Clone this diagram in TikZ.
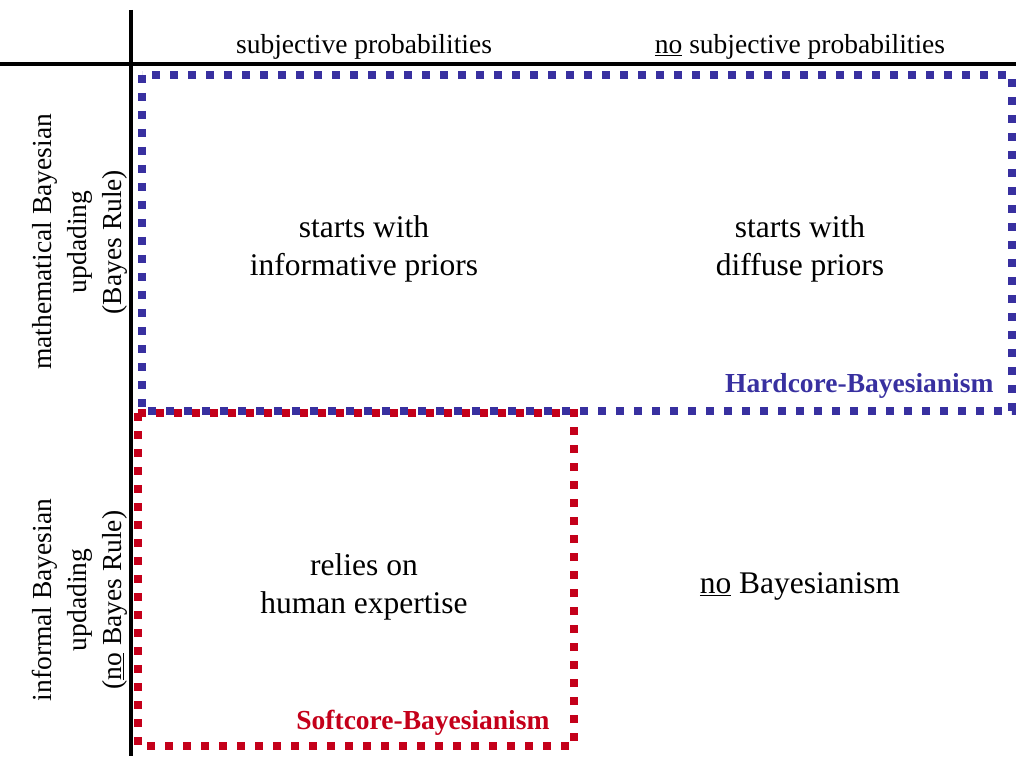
\documentclass[tikz,border=0pt]{standalone}
\usepackage{fontspec}
\setmainfont{Liberation Serif}
\usetikzlibrary{positioning}
\definecolor{hardblue}{RGB}{56,48,160}
\definecolor{softred}{RGB}{196,0,26}

\begin{document}
\begin{tikzpicture}[x=1pt, y=1pt,
  axis/.style={line width=4pt},
  dotbox/.style={line width=8pt, dash pattern=on 8pt off 10pt},
  head/.style={font=\fontsize{27.5}{32}\selectfont},
  cell/.style={font=\fontsize{31.5}{38}\selectfont, align=center},
  side/.style={font=\fontsize{27.5}{35}\selectfont, align=center, rotate=90},
  tag/.style={font=\fontsize{27.5}{30}\selectfont\bfseries, anchor=east}]
  \useasboundingbox (0,0) rectangle (1016,756);
  % the two axes of the table
  \draw[axis] (131,746) -- (131,0);
  \draw[axis] (0,692) -- (1016,692);
  % column and row headings
  \node[head] (subj) at (364,709) {subjective probabilities};
  \node[head] (nosubj) at (800,709) {\underline{no} subjective probabilities};
  \node[side] (math) at (80,514) {mathematical Bayesian\\updading\\(Bayes Rule)};
  \node[side] (informal) at (80,156) {informal Bayesian\\updading\\(\underline{no} Bayes Rule)};
  % the four cells
  \node[cell] (informative) at (364,507) {starts with\\informative priors};
  \node[cell] (diffuse) at (800,507) {starts with\\diffuse priors};
  \node[cell] (expertise) at (364,169) {relies on\\human expertise};
  \node[cell] (none) at (800,170) {\underline{no} Bayesianism};
  % dotted frames, red on top of blue
  \draw[dotbox, hardblue] (142,681) rectangle (1012,345);
  \node[tag, text=hardblue] (hard) at (997,370) {Hardcore-Bayesianism};
  \draw[dotbox, softred] (138,343) rectangle (574,10);
  \node[tag, text=softred] (soft) at (553,33) {Softcore-Bayesianism};
\end{tikzpicture}
\end{document}
